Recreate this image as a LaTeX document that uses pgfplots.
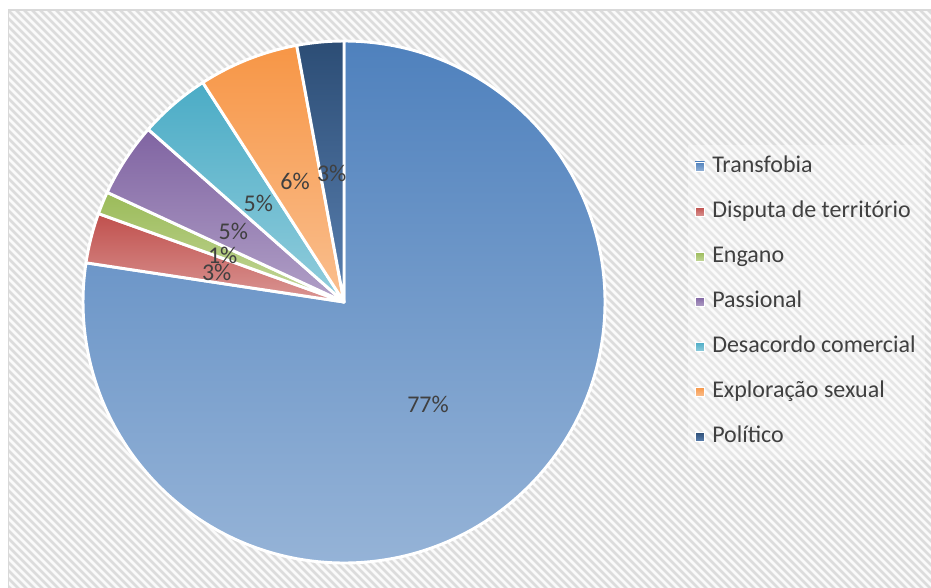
\documentclass[border=0pt]{standalone}
\usepackage{pgfplots}
\pgfplotsset{compat=1.18}
\usepackage{pgfplotstable}
\usepackage{fontspec}
\setmainfont{Carlito}

\definecolor{pt0}{HTML}{4F81BD}\definecolor{pb0}{HTML}{95B3D7}
\definecolor{pt1}{HTML}{C0504D}\definecolor{pb1}{HTML}{DA9694}
\definecolor{pt2}{HTML}{9BBB59}\definecolor{pb2}{HTML}{C4D79B}
\definecolor{pt3}{HTML}{8064A2}\definecolor{pb3}{HTML}{B1A0C7}
\definecolor{pt4}{HTML}{4BACC6}\definecolor{pb4}{HTML}{92CDDC}
\definecolor{pt5}{HTML}{F79646}\definecolor{pb5}{HTML}{FABF8F}
\definecolor{pt6}{HTML}{2C4D75}\definecolor{pb6}{HTML}{5A80B0}
\definecolor{txt}{HTML}{404040}
\definecolor{hatchbg}{HTML}{FAFAFA}
\definecolor{hatch}{HTML}{DCDCDC}
\definecolor{frame}{HTML}{D9D9D9}

% share of each cause, label text, label position (px)
\pgfplotstableread{
value pct lx ly ry name
77.4 77 428 404 167 Transfobia
3.1 3 216.7 272.7 212 {Disputa de território}
1.4 1 222.7 255 257 Engano
4.6 5 233.3 231.7 302 Passional
4.4 5 258.3 203.3 347 {Desacordo comercial}
6.2 6 295 181.7 392 {Exploração sexual}
2.9 3 331.7 173.3 437 Político
}\piedata

\begin{document}
\begin{tikzpicture}
\begin{axis}[
    scale only axis,
    width=698.25pt, height=441pt,
    xmin=0, xmax=931, ymin=0, ymax=588,
    y dir=reverse,
    hide axis,
    clip=false,
]
% hatched chart area
\pgfplotsextra{
  \path (axis cs:0,0) rectangle (axis cs:931,588);
  \fill[white] (axis cs:0,0) rectangle (axis cs:931,588);
  \begin{scope}
    \clip (axis cs:8,10) rectangle (axis cs:931,588);
    \fill[hatchbg] (axis cs:8,10) rectangle (axis cs:931,588);
    \foreach \k in {-80,...,120} {
      \pgfmathsetmacro\xa{\k*8}
      \draw[overlay, hatch, line width=2pt] (axis cs:\xa,10) -- ++(450pt,-450pt);
    }
    \fill[white, opacity=0.3] (axis cs:688,145) rectangle (axis cs:925,460);
    \draw[overlay, frame, line width=2pt] (axis cs:8,10) rectangle (axis cs:1000,700);
  \end{scope}
}
% slices, labels and legend
\pgfplotsextra{
  \gdef\startang{90}
  \foreach \i in {0,...,6} {
    \pgfplotstablegetelem{\i}{value}\of\piedata \let\v\pgfplotsretval
    \pgfmathsetmacro\endang{\startang-3.6*\v}
    \shadedraw[top color=pt\i, bottom color=pb\i, draw=white, line width=2.2pt, line join=round]
      (axis cs:344,302) -- ++(\startang:195.75pt)
      arc[start angle=\startang, end angle=\endang, radius=195.75pt] -- cycle;
    \global\let\startang\endang
  }
  \foreach \i in {0,...,6} {
    \pgfplotstablegetelem{\i}{pct}\of\piedata \let\p\pgfplotsretval
    \pgfplotstablegetelem{\i}{lx}\of\piedata \let\lx\pgfplotsretval
    \pgfplotstablegetelem{\i}{ly}\of\piedata \let\ly\pgfplotsretval
    \node[text=txt, font=\fontsize{18pt}{21pt}\selectfont, inner sep=0pt] at (axis cs:\lx,\ly) {\p\%};
    \pgfplotstablegetelem{\i}{ry}\of\piedata \let\ry\pgfplotsretval
    \pgfplotstablegetelem{\i}{name}\of\piedata \let\nm\pgfplotsretval
    \shadedraw[top color=pt\i, bottom color=pb\i, draw=white, line width=0.6pt]
      (axis cs:695,{\ry-5}) rectangle (axis cs:704.5,{\ry+4.5});
    \node[text=txt, font=\fontsize{18pt}{21pt}\selectfont, anchor=west, inner sep=0pt] at (axis cs:712,\ry) {\strut\nm};
  }
}
\end{axis}
\end{tikzpicture}
\end{document}
